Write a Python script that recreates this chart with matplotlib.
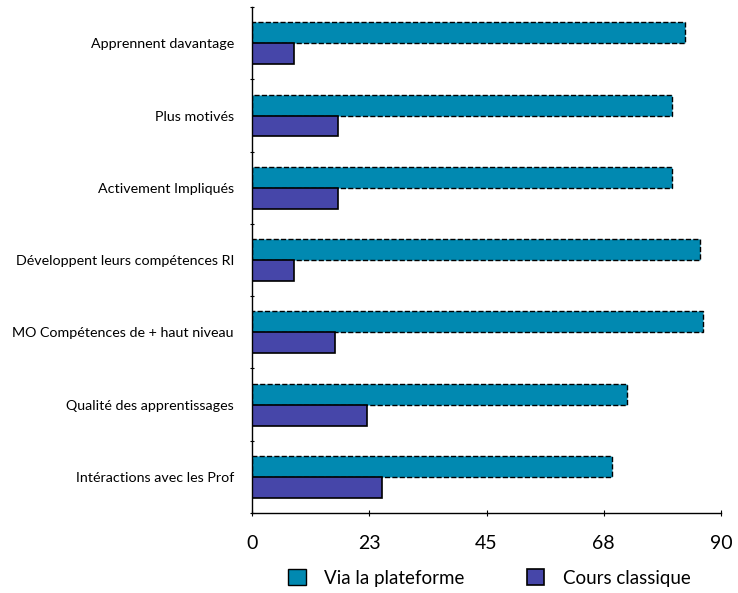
import matplotlib.pyplot as plt
import numpy as np

plt.rcParams['font.family'] = ['Lato', 'DejaVu Sans']

# Data (top to bottom)
categories = ['Apprennent davantage', 'Plus motivés', 'Activement Impliqués',
              'Développent leurs compétences RI', 'MO Compétences de + haut niveau',
              'Qualité des apprentissages', 'Intéractions avec les Prof']
plateforme = [83, 80.5, 80.5, 86, 86.5, 72, 69]
classique = [8, 16.5, 16.5, 8, 16, 22, 25]
xticks = [0, 22.5, 45, 67.5, 90]
xticklabels = ['0', '23', '45', '68', '90']

teal = '#0189b1'
purple = '#4646a9'

fig = plt.figure(figsize=(7.38, 5.93), dpi=100)
ax = fig.add_axes([0.3415, 0.135, 0.6355, 0.853])

n = len(categories)
y = np.arange(n)[::-1]   # first category on top
h = 0.29

ax.barh(y + h / 2, plateforme, height=h, color=teal, edgecolor='black',
        linestyle='--', linewidth=1.0, label='Via la plateforme')
ax.barh(y - h / 2, classique, height=h, color=purple, edgecolor='black',
        linewidth=1.2, label='Cours classique')

ax.set_xlim(0, 90)
ax.set_ylim(-0.5, n - 0.5)
ax.set_xticks(xticks)
ax.set_xticklabels(xticklabels, fontsize=14)
ax.set_yticks(y)
ax.set_yticklabels(categories, fontsize=10.3)
ax.set_yticks(np.arange(n + 1) - 0.5, minor=True)

ax.tick_params(axis='y', which='major', length=0, pad=13)
ax.tick_params(axis='y', which='minor', length=3, direction='inout', width=0.8)
ax.tick_params(axis='x', length=4, direction='inout', width=0.8, pad=14)

ax.spines['top'].set_visible(False)
ax.spines['right'].set_visible(False)
ax.spines['left'].set_linewidth(1.0)
ax.spines['bottom'].set_linewidth(1.0)

leg = fig.legend(loc='lower center', bbox_to_anchor=(0.663, -0.018), ncol=2,
                 frameon=False, fontsize=13.5, handlelength=0.95, handleheight=0.95,
                 columnspacing=3.3, handletextpad=1.0)
for p in leg.get_patches():
    p.set_linestyle('-')
    p.set_edgecolor('black')

fig.savefig('out.png', dpi=100)
